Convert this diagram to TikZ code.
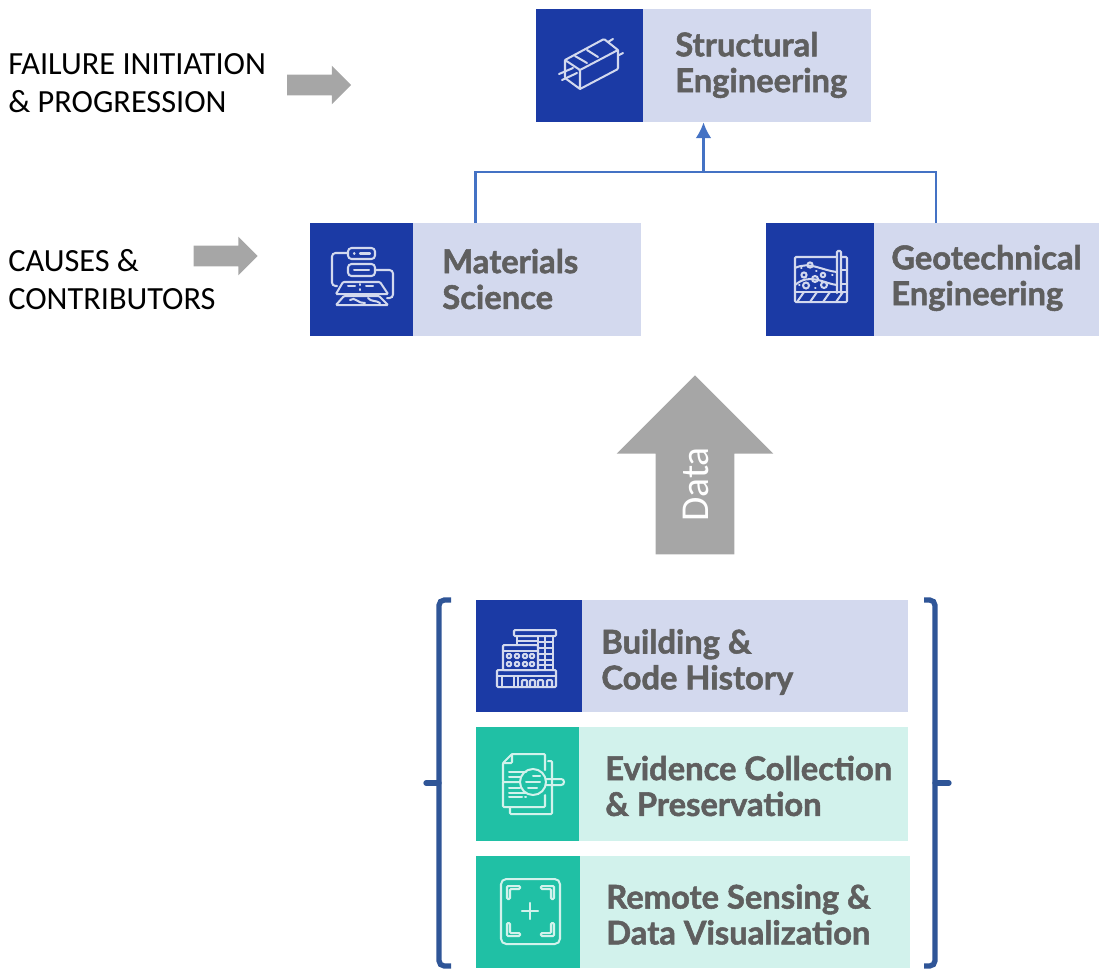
\documentclass[tikz,border=0pt]{standalone}
\usepackage{fontspec}
\setmainfont{Carlito}
\newfontfamily\boxfont[BoldFeatures={FakeBold=1.6}]{Lato}
\usetikzlibrary{shapes.arrows,arrows.meta}
\definecolor{boxblue}{HTML}{1B3AA5}
\definecolor{lightblue}{HTML}{D3D9EE}
\definecolor{boxteal}{HTML}{20C0A5}
\definecolor{lightteal}{HTML}{D2F2EC}
\definecolor{boxgrey}{HTML}{A6A6A6}
\definecolor{boxtextgrey}{HTML}{5F5F5F}
\definecolor{linkblue}{HTML}{4472C4}
\definecolor{bracketblue}{HTML}{2F5597}
\tikzset{
    x=0.02cm,y=-0.02cm,
    bluebox/.style={fill=lightblue,minimum height=2.26cm,inner sep=0pt},
    tealbox/.style={fill=lightteal,minimum height=2.26cm,inner sep=0pt},
    blueicon/.style={fill=boxblue,minimum height=2.26cm,inner sep=0pt,anchor=west},
    tealicon/.style={fill=boxteal,minimum height=2.26cm,inner sep=0pt,anchor=west},
    boxtext/.style={anchor=west,align=left,inner sep=0pt,text=boxtextgrey,font=\boxfont\bfseries\fontsize{18.6}{20.4}\selectfont},
    sidetext/.style={anchor=west,align=left,inner sep=0pt,font=\fontsize{18.4}{22}\selectfont},
    sidearrow/.style={single arrow,fill=boxgrey,inner sep=0pt,text height=0.4cm,text depth=0pt,minimum height=1.28cm,minimum width=0.76cm,single arrow head extend=0.18cm,single arrow head indent=0cm},
    iconwhite/.style={draw=lightblue,line width=1.15pt,rounded corners=0.6pt,line cap=round},
    icontealline/.style={draw=lightteal,line width=1.15pt,rounded corners=0.6pt,line cap=round},
    bracket/.style={draw=bracketblue,line width=3pt,rounded corners=3pt},
}
\begin{document}
\begin{tikzpicture}
    \useasboundingbox (0,0) rectangle (1099,968);

    \node[bluebox,minimum width=6.7cm] (struct) at (703.5,65.5) {};
    \node[blueicon,minimum width=2.14cm] (structicon) at (struct.west) {};
    \node[boxtext] (structtext) at (675,65) {Structural\\Engineering};

    \node[bluebox,minimum width=6.62cm] (mat) at (475.5,279.5) {};
    \node[blueicon,minimum width=2.06cm] (maticon) at (mat.west) {};
    \node[boxtext] (mattext) at (442,279) {Materials\\Science};

    \node[bluebox,minimum width=6.66cm] (geo) at (932.5,279.5) {};
    \node[blueicon,minimum width=2.16cm] (geoicon) at (geo.west) {};
    \node[boxtext] (geotext) at (891,278) {Geotechnical\\Engineering};

    \node[bluebox,minimum width=8.64cm,minimum height=2.24cm] (build) at (692,656) {};
    \node[blueicon,minimum width=2.12cm,minimum height=2.24cm] (buildicon) at (build.west) {};
    \node[boxtext] (buildtext) at (601,662) {Building \&\\Code History};

    \node[tealbox,minimum width=8.64cm,minimum height=2.28cm] (evid) at (692,784) {};
    \node[tealicon,minimum width=2.06cm,minimum height=2.28cm] (evidicon) at (evid.west) {};
    \node[boxtext] (evidtext) at (605,786) {Evidence Collection\\\& Preservation};

    \node[tealbox,minimum width=8.68cm,minimum height=2.24cm] (remote) at (693,912) {};
    \node[tealicon,minimum width=2.08cm,minimum height=2.24cm] (remoteicon) at (remote.west) {};
    \node[boxtext] (remotetext) at (606,914.5) {Remote Sensing \&\\Data Visualization};

    \coordinate (junction) at (703.5,172);
    \draw[linkblue,line width=1.4pt] (mat.north) |- (junction);
    \draw[linkblue,line width=1.4pt] (936,223) |- (junction);
    \draw[linkblue,line width=1.4pt,-{Latex[length=9pt,width=9pt]}] (junction) -- (struct.south);

    \node[sidetext] (failtext) at (8,83) {FAILURE INITIATION\\\& PROGRESSION};
    \node[sidetext] (causetext) at (8,279.5) {CAUSES \&\\CONTRIBUTORS};
    \node[sidearrow] (failarrow) at (314,85) {};
    \node[sidearrow] (causearrow) at (220.5,256) {};
    \node[single arrow,fill=boxgrey,inner sep=0pt,rotate=90,text height=1.04cm,text depth=0.52cm,minimum height=3.58cm,minimum width=3.12cm,single arrow head extend=0.78cm,single arrow head indent=0cm,text=white,font=\fontsize{22.5}{24}\selectfont] (dataarrow) at (695,484.5) {Data\hspace{0.48cm}};

    \draw[bracket] (451,600) -- (439,600) -- (439,966) -- (451,966);
    \draw[bracket] (924,600) -- (935,600) -- (935,966) -- (924,966);
    \draw[bracket,line cap=round] (426,783) -- (439,783);
    \draw[bracket,line cap=round] (935,783) -- (949,783);

    % structural
    \draw[iconwhite] (565,60) -- (580,70) -- (580,89) -- (565,78) -- cycle;
    \draw[iconwhite] (565,60) -- (604,39) -- (618,50) -- (580,70);
    \draw[iconwhite] (618,50) -- (618,69) -- (580,89);
    \draw[iconwhite] (575,56) -- (587,63) (587,50) -- (598,57) (608,42) -- (613,39) (619,55) -- (623,53) (559,74) -- (573,68) (562,80) -- (577,73);

    % materials
    \draw[iconwhite,rounded corners=2pt] (348,248) rectangle (375,259);
    \draw[iconwhite,rounded corners=2pt] (348,264) rectangle (375,276);
    \draw[iconwhite,rounded corners=2pt] (348,253) -- (332,253) -- (332,286) -- (337,286);
    \draw[iconwhite,rounded corners=2pt] (375,270) -- (393,270) -- (393,298) -- (387,298);
    \draw[iconwhite] (343,282) -- (380,282) -- (388,294) -- (336,294) -- cycle;
    \draw[iconwhite] (344,296) -- (379,296) -- (388,305) -- (336,305) -- cycle;
    \draw[iconwhite] (354,253.5) -- (354.5,253.5) (360,253.5) -- (370,253.5) (354,270) -- (369,270);
    \draw[iconwhite] (348,286) -- (355,286) (360,284) -- (360,285) (360,289) -- (360,290) (366,286) -- (373,286);
    \draw[iconwhite] (350,300) .. controls (355,296) and (358,304) .. (365,303) (368,298) .. controls (371,302) and (376,300) .. (380,303);

    % geotechnical
    \draw[iconwhite] (837,257) -- (795,257) -- (795,302) -- (847,302) -- (847,257) -- (841,257);
    \draw[iconwhite] (837,293) -- (837,251) -- (841,251) -- (841,293);
    \draw[iconwhite] (795,268) .. controls (810,261) and (820,270) .. (837,272);
    \draw[iconwhite] (795,285) .. controls (810,272) and (825,284) .. (837,285);
    \draw[iconwhite] (795,292) -- (847,292) (841,270) -- (847,270) (841,284) -- (847,284);
    \draw[iconwhite] (797,302) -- (804,292) (810,302) -- (817,292) (823,302) -- (830,292) (836,302) -- (843,292);
    \draw[iconwhite] (810,265) circle (2.6) (804,275) circle (2.6) (815,279) circle (3) (823,275) circle (2.2) (806,285.5) circle (3) (824,285) circle (3);
    \draw[iconwhite] (801,268) -- (801.5,268) (816,271) -- (816.5,271) (832,275) -- (832.5,275) (799,285) -- (799.5,285) (815,288) -- (815.5,288);

    % building
    \draw[iconwhite] (514,630) rectangle (556,636);
    \draw[iconwhite] (517,636) -- (517,645) (553,636) -- (553,670) (538,636) -- (538,670) (517,641) -- (538,641);
    \draw[iconwhite] (538,642) -- (553,642) (538,648) -- (553,648) (538,654) -- (553,654) (538,660) -- (553,660) (538,665) -- (553,665) (545,636) -- (545,670);
    \draw[iconwhite] (503,645) rectangle (538,670);
    \draw[iconwhite] (503,651) -- (538,651);
    \foreach \winx in {509,517,525,532} {
        \draw[iconwhite] (\winx-2,654) rectangle (\winx+2,658);
        \draw[iconwhite] (\winx-2,662) rectangle (\winx+2,666);
    }
    \draw[iconwhite] (497,670) rectangle (556,687);
    \draw[iconwhite] (497,676) -- (556,676);
    \draw[iconwhite] (502,676) -- (502,687) (514,676) -- (514,687) (518,676) -- (518,687);
    \foreach \doorx in {522,530,538,547} {
        \draw[iconwhite] (\doorx,687) -- (\doorx,680) -- (\doorx+5,680) -- (\doorx+5,687);
    }

    % evidence
    \draw[icontealline] (520,782) -- (503,782) -- (503,763) -- (512,754) -- (545,754) -- (545,770);
    \draw[icontealline] (503,763) -- (512,763) -- (512,754);
    \draw[icontealline] (503,782) -- (503,807) -- (545,807) -- (545,795);
    \draw[icontealline] (548,761) -- (552,761) -- (552,814) -- (510,814) -- (510,807);
    \draw[icontealline] (533,782) circle (13);
    \draw[icontealline,rounded corners=1.6pt] (546,779) -- (564,779) -- (564,785) -- (546,785);
    \draw[icontealline] (509,772) -- (526,772) (509,777) -- (520,777) (509,782) -- (518,782) (509,788) -- (520,788) (509,793) -- (526,793) (509,797) -- (522,797) (525,797) -- (526,797);
    \draw[icontealline] (533,776) -- (540,776) (526,782) -- (540,782) (528,788) -- (537,788);

    % remote sensing
    \draw[icontealline,rounded corners=3pt] (501,879) rectangle (560,944);
    \draw[icontealline] (520,886) -- (507,886) -- (507,899) -- (510,899) -- (510,889) -- (520,889) -- cycle;
    \draw[icontealline] (541,886) -- (554,886) -- (554,899) -- (551,899) -- (551,889) -- (541,889) -- cycle;
    \draw[icontealline] (520,936) -- (507,936) -- (507,923) -- (510,923) -- (510,933) -- (520,933) -- cycle;
    \draw[icontealline] (541,936) -- (554,936) -- (554,923) -- (551,923) -- (551,933) -- (541,933) -- cycle;
    \draw[icontealline,line width=1.3pt] (522,911) -- (538,911) (530,903) -- (530,919);
\end{tikzpicture}
\end{document}
